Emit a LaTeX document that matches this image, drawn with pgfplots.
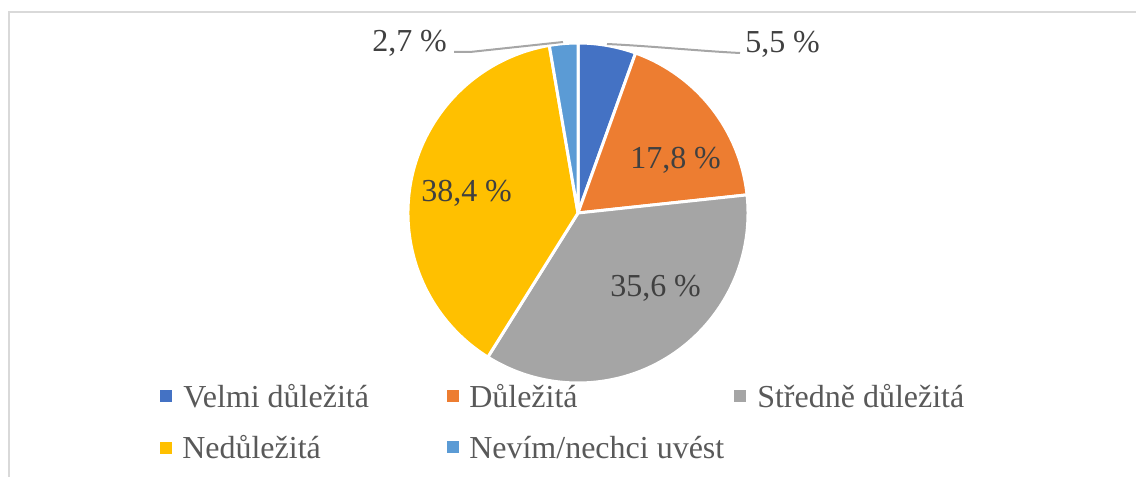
\documentclass[border=0pt]{standalone}
\usepackage{pgfplots}
\pgfplotsset{compat=1.18}
\usepackage{pgfplotstable}
\usepackage{fontspec}
\setmainfont{Liberation Serif}
\definecolor{c0}{HTML}{4472C4}
\definecolor{c1}{HTML}{ED7D31}
\definecolor{c2}{HTML}{A5A5A5}
\definecolor{c3}{HTML}{FFC000}
\definecolor{c4}{HTML}{5B9BD5}
\definecolor{txt}{HTML}{404040}
\definecolor{legtxt}{HTML}{595959}
\definecolor{frm}{HTML}{D9D9D9}
\definecolor{lead}{HTML}{A6A6A6}
\newcommand{\lbl}{\fontsize{24}{28}\selectfont}

\pgfplotstableread{
value
5.5
17.8
35.6
38.4
2.7
}\piedata

\begin{document}
\begin{tikzpicture}
\begin{axis}[
  at={(0pt,0pt)}, anchor=south west,
  x=0.75pt, y=0.75pt,
  xmin=0, xmax=1136, ymin=0, ymax=477,
  y dir=reverse,
  hide axis, clip=false, enlargelimits=false,
]
% frame
\draw[frm, line width=1.5pt] (axis cs:8.5,477) -- (axis cs:8.5,12.5) -- (axis cs:1136,12.5);
% pie slices
\def\cur{90}
\pgfplotsforeachungrouped \i in {0,...,4}{%
  \pgfplotstablegetelem{\i}{value}\of\piedata
  \pgfmathsetmacro\nxt{\cur-3.6*\pgfplotsretval}%
  \edef\temp{\noexpand\filldraw[fill=c\i, draw=white, line width=2.25pt, line join=round]
    (axis cs:578,213) -- ++(\cur:127.5pt) arc[start angle=\cur, end angle=\nxt, radius=127.5pt] -- cycle;}%
  \temp
  \global\let\cur\nxt
}
% leader lines
\draw[lead, line width=1.5pt] (axis cs:607,44) .. controls (axis cs:650,46) and (axis cs:700,51) .. (axis cs:740,53);
\draw[lead, line width=1.5pt] (axis cs:454,52) -- (axis cs:470,52) -- (axis cs:563,42);
% data labels
\node[txt, font=\lbl, anchor=base west, inner sep=0pt] at (axis cs:745,53) {5,5 \%};
\node[txt, font=\lbl, anchor=base west, inner sep=0pt] at (axis cs:372,52) {2,7 \%};
\node[txt, font=\lbl, anchor=base west, inner sep=0pt] at (axis cs:630,169) {17,8 \%};
\node[txt, font=\lbl, anchor=base west, inner sep=0pt] at (axis cs:421,202) {38,4 \%};
\node[txt, font=\lbl, anchor=base west, inner sep=0pt] at (axis cs:610,297) {35,6 \%};
% legend
\fill[c0] (axis cs:160,390) rectangle (axis cs:172,402);
\node[legtxt, font=\lbl, anchor=base west, inner sep=0pt] at (axis cs:183,407) {Velmi důležitá};
\fill[c1] (axis cs:447,390) rectangle (axis cs:459,402);
\node[legtxt, font=\lbl, anchor=base west, inner sep=0pt] at (axis cs:469,407) {Důležitá};
\fill[c2] (axis cs:734,390) rectangle (axis cs:746,402);
\node[legtxt, font=\lbl, anchor=base west, inner sep=0pt] at (axis cs:757,407) {Středně důležitá};
\fill[c3] (axis cs:160,442) rectangle (axis cs:172,454);
\node[legtxt, font=\lbl, anchor=base west, inner sep=0pt] at (axis cs:182,459) {Nedůležitá};
\fill[c4] (axis cs:447,441) rectangle (axis cs:459,453);
\node[legtxt, font=\lbl, anchor=base west, inner sep=0pt] at (axis cs:469,458) {Nevím/nechci uvést};
\end{axis}
\pgfresetboundingbox
\path (0pt,0pt) rectangle (852pt,357.75pt);
\end{tikzpicture}
\end{document}
